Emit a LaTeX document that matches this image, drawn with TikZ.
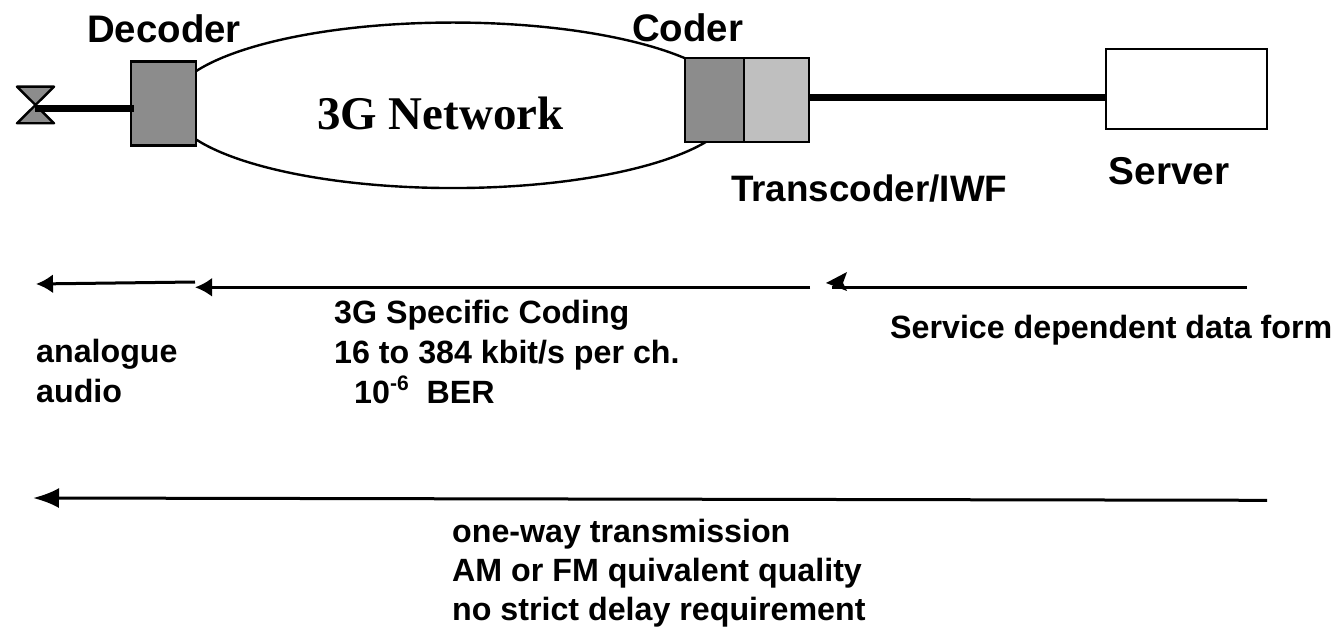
\documentclass[tikz,border=0pt]{standalone}
\usepackage{fontspec}
\setmainfont{Liberation Sans}
\newfontfamily\serifb{Liberation Serif}
\usetikzlibrary{arrows.meta,shapes.geometric}
\tikzset{
 lbl/.style={font=\bfseries\fontsize{38.4}{44}\selectfont,anchor=base west,inner sep=0pt},
 sm/.style={font=\bfseries\fontsize{32.2}{40}\selectfont,anchor=north west,inner sep=0pt,align=left},
 boxn/.style={draw=black,line width=2.4pt,rectangle,inner sep=0pt,minimum height=84pt},
 arr/.style={line width=3pt,-{Latex[length=17pt,width=19pt]}},
 longarr/.style={line width=3pt,-{Latex[length=26pt,width=20pt]}},
 heavy/.style={line width=7.5pt}
}
\definecolor{dk}{gray}{0.55}
\definecolor{lt}{gray}{0.75}
\begin{document}
\begin{tikzpicture}[x=1pt,y=-1pt]
\useasboundingbox (0,0) rectangle (1338,628);
\node[ellipse,draw=black,line width=2.4pt,inner sep=0pt,minimum width=564pt,minimum height=165.5pt] (net) at (453,105.3) {};
\node[boxn,fill=dk,minimum width=65pt] (dec) at (163.2,103.7) {};
\node[boxn,fill=dk,minimum width=59pt] (cod) at (714.5,100) {};
\node[boxn,fill=lt,minimum width=65pt] (tra) at (776.5,100) {};
\node[boxn,fill=white,minimum width=161pt,minimum height=80pt] (srv) at (1186.5,89) {};
\coordinate (hub) at (35,108.7);
\coordinate (srvin) at (1106,97.7);
\draw[line width=2.4pt,fill=dk,line join=round] (17,86.7) -- (54,86.7) -- (17,123.3) -- (54,123.3) -- cycle;
\draw[heavy] (hub) -- (dec.west |- hub) -- ++(4,0);
\draw[heavy] (tra.east |- srvin) -- (srv.west |- srvin);
\node[lbl] (tdec) at (87,43) {Decoder};
\node[lbl] (tcod) at (632,42) {Coder};
\node[lbl,font=\bfseries\fontsize{36.8}{44}\selectfont] (ttra) at (731,202) {Transcoder/IWF};
\node[lbl,font=\bfseries\fontsize{38.8}{44}\selectfont] (tsrv) at (1108.5,185) {Server};
\node[font=\serifb\bfseries\fontsize{46.9}{50}\selectfont,anchor=base west,inner sep=0pt] (tnet) at (317,130) {3G Network};
\coordinate (a1s) at (195,282); \coordinate (a1e) at (36,284);
\coordinate (a2s) at (810,287.3); \coordinate (a2e) at (195,287.3);
\coordinate (a3s) at (1247,287.3); \coordinate (a3e) at (832,287.3);
\coordinate (a4s) at (1267,500.3); \coordinate (a4e) at (33,498);
\draw[arr] (a1s) -- (a1e);
\draw[arr] (a2s) -- (a2e);
\draw[line width=3pt] (a3s) -- (a3e);
\fill (826,283) -- (847,272) -- (843,283) -- (847,291) -- cycle;
\draw[longarr] (a4s) -- (a4e);
\node[sm] (t1) at (334,300) {3G Specific Coding\\16 to 384 kbit/s per ch.\\\hspace{20pt}10\raisebox{13pt}{\fontsize{21}{21}\selectfont -6}\hspace{9pt} BER};
\node[sm] (t2) at (36,339) {analogue\\audio};
\node[sm] (t3) at (890,315) {Service dependent data form};
\node[sm,font=\bfseries\fontsize{32.2}{39}\selectfont] (t4) at (452,519) {one-way transmission\\AM or FM quivalent quality\\no strict delay requirement};
\end{tikzpicture}
\end{document}
